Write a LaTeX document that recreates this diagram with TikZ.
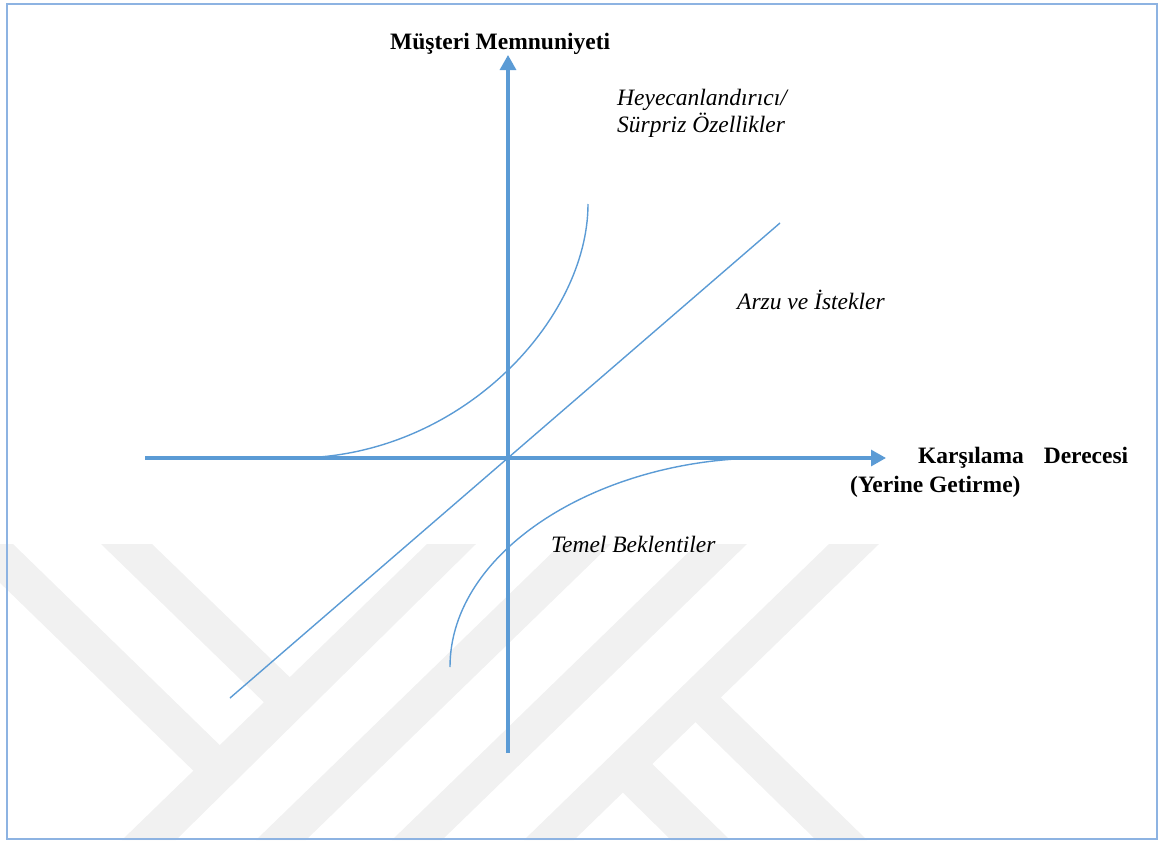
\documentclass[tikz,border=0pt]{standalone}
\usepackage{fontspec}
\setmainfont{Liberation Serif}
\usetikzlibrary{arrows.meta}
\definecolor{axisblue}{RGB}{91,155,213}
\definecolor{framebl}{RGB}{141,179,226}
\definecolor{wmgray}{RGB}{241,241,241}
\begin{document}
\begin{tikzpicture}[x=1pt,y=-1pt,
  axis/.style={draw=axisblue, line width=3.1pt, -{Triangle[length=15pt,width=16pt]}},
  curve/.style={draw=axisblue, line width=1.4pt},
  lbl/.style={inner sep=0pt, anchor=base west, font=\fontsize{23.5}{27}\selectfont\itshape},
  ttl/.style={inner sep=0pt, anchor=base west, font=\fontsize{23.5}{27}\selectfont\bfseries},
  wm/.style={fill=wmgray, draw=none}]
\useasboundingbox (0,0) rectangle (1168,841);

% faint striped emblem in the lower half
\begin{scope}
  \clip (0,0) rectangle (1168,841);
  % Y
  \path[wm] (427,544) -- (476,544) -- (176,840) -- (122,840) -- cycle;
  \path[wm] (-40,544) -- (13,544) -- (232,757) -- (206,783) -- cycle;
  \path[wm] (101,544) -- (152,544) -- (302,689) -- (276,714) -- cycle;
  % parallel strokes
  \path[wm] (561,544) -- (611,544) -- (306,840) -- (256,840) -- cycle;
  \path[wm] (697,544) -- (747,544) -- (442,840) -- (392,840) -- cycle;
  % K
  \path[wm] (829,544) -- (879,544) -- (574,840) -- (524,840) -- cycle;
  \path[wm] (607,777) -- (636,748) -- (730,840) -- (671,840) -- cycle;
  \path[wm] (681,708) -- (706,683) -- (867,840) -- (816,840) -- cycle;
\end{scope}

% frame
\draw[framebl, line width=1.8pt] (7,4) rectangle (1157,839);

% axes
\coordinate (yb) at (508,753);
\coordinate (yt) at (508,55);
\coordinate (xl) at (145,458);
\coordinate (xr) at (886,458);
\coordinate (o) at (508,458);
\draw[axis] (yb) -- (yt);
\draw[axis] (xl) -- (xr);

% linear line
\coordinate (d1) at (230,698);
\coordinate (d2) at (780,223);
\draw[curve] (d1) -- (d2);

% excitement curve
\coordinate (e1) at (295,458);
\coordinate (e2) at (588,204);
\draw[curve] (e1) .. controls (460,458) and (588,320) .. (e2);

% basic curve
\coordinate (b1) at (450,667);
\coordinate (b2) at (765,458);
\draw[curve] (b1) .. controls (450,550) and (600,458) .. (b2);

% labels
\node[ttl] (ms) at (390,49) {Müşteri Memnuniyeti};
\node[lbl] (h1) at (617,105) {Heyecanlandırıcı/};
\node[lbl] (h2) at (617,132) {Sürpriz Özellikler};
\node[lbl] (ai) at (737,309) {Arzu ve İstekler};
\node[lbl] (tb) at (551,552) {Temel Beklentiler};
\node[ttl] (k1) at (918,463) {\makebox[210pt][s]{Karşılama Derecesi}};
\node[ttl] (k2) at (850,492) {(Yerine Getirme)};
\end{tikzpicture}
\end{document}
